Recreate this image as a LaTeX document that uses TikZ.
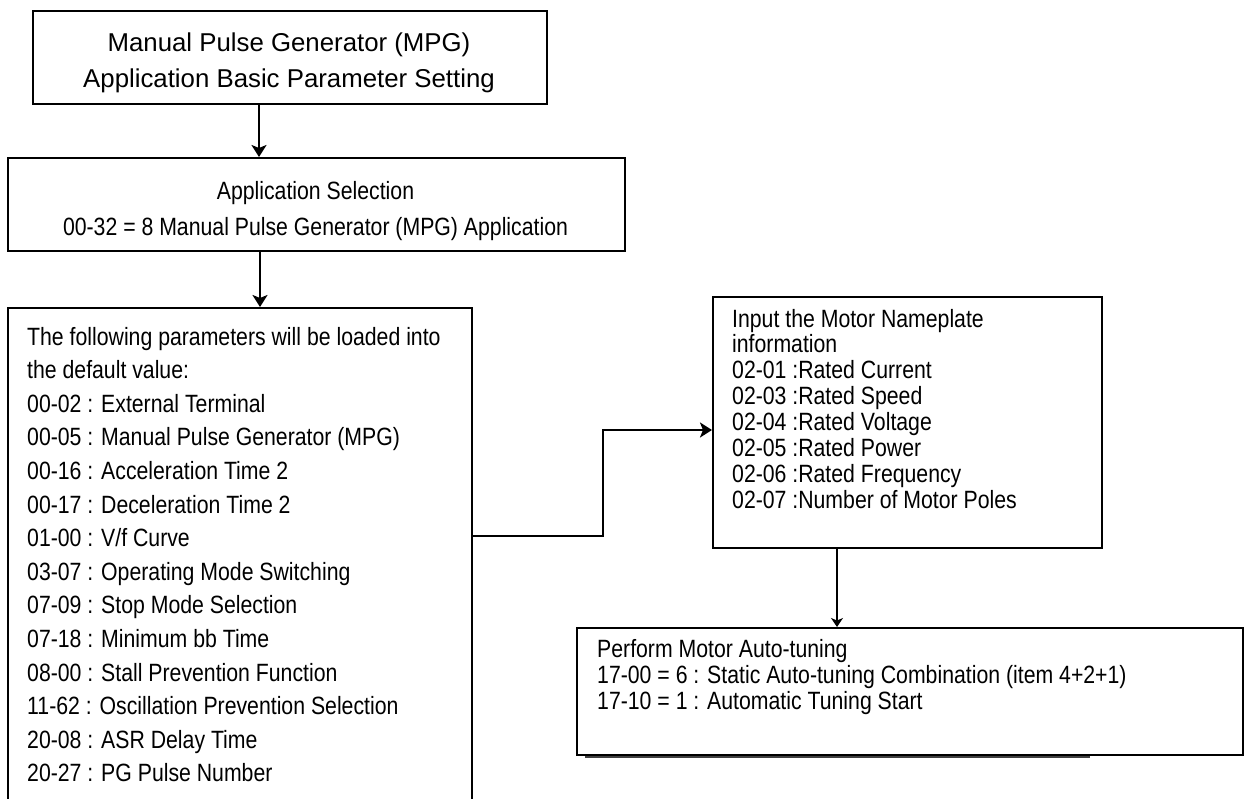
\documentclass[tikz,border=0pt]{standalone}
\usepackage{fontspec}
\setmainfont{Liberation Sans}
\newfontfamily\narrowfont[FakeStretch=0.85]{Liberation Sans}
\usetikzlibrary{arrows.meta}
\begin{document}
\begin{tikzpicture}[x=1pt,y=-1pt,
  box/.style={draw=black, line width=2.2pt, inner sep=0pt, anchor=north west},
  wide/.style={inner sep=0pt, font=\fontsize{25.8}{30}\selectfont},
  nar/.style={inner sep=0pt, font=\narrowfont\fontsize{25}{30}\selectfont},
  arr/.style={line width=2.6pt, -{Stealth[length=12pt,width=15pt,inset=3pt]}},
  thinarr/.style={line width=1.2pt, -{Stealth[length=9pt,width=12pt,inset=2.5pt]}}]
\fill[white] (0,0) rectangle (1244,798);
\useasboundingbox (0,0) rectangle (1244,798);

% boxes
\node[box, minimum width=514pt, minimum height=93pt] (top) at (32,10) {};
\node[box, minimum width=617pt, minimum height=93pt] (sel) at (7,157) {};
\node[box, minimum width=464pt, minimum height=500pt] (par) at (7,307) {};
\node[box, minimum width=389pt, minimum height=251pt] (plate) at (712,296) {};
\node[box, minimum width=666pt, minimum height=127pt] (tune) at (576,627) {};
\coordinate (shA) at (585,757);
\coordinate (shB) at (1090,757);
\draw[line width=2pt, black!75] (shA) -- (shB);

% texts
\node[wide, anchor=base] (topA) at (289,51.7) {Manual Pulse Generator (MPG)};
\node[wide, anchor=base] (topB) at (289,87.3) {Application Basic Parameter Setting};
\node[nar, anchor=base] (selA) at (315.5,199) {Application Selection};
\node[nar, anchor=base] (selB) at (315.5,235) {00-32 = 8 Manual Pulse Generator (MPG) Application};

\foreach \t [count=\i from 0] in {The following parameters will be loaded into,
  the default value:,
  00-02 : External Terminal,
  00-05 : Manual Pulse Generator (MPG),
  00-16 : Acceleration Time 2,
  00-17 : Deceleration Time 2,
  01-00 : V/f Curve,
  03-07 : Operating Mode Switching,
  07-09 : Stop Mode Selection,
  07-18 : Minimum bb Time,
  08-00 : Stall Prevention Function,
  11-62 : Oscillation Prevention Selection,
  20-08 : ASR Delay Time,
  20-27 : PG Pulse Number}
  \node[nar, anchor=base west] (par\i) at (27,{345+33.6*\i}) {\t};

\foreach \t [count=\i from 0] in {Input the Motor Nameplate,
  information,
  02-01 :Rated Current,
  02-03 :Rated Speed,
  02-04 :Rated Voltage,
  02-05 :Rated Power,
  02-06 :Rated Frequency,
  02-07 :Number of Motor Poles}
  \node[nar, anchor=base west] (plate\i) at (732,{327+25.9*\i}) {\t};

\foreach \t [count=\i from 0] in {Perform Motor Auto-tuning,
  17-00 = 6 : Static Auto-tuning Combination (item 4+2+1),
  17-10 = 1 : Automatic Tuning Start}
  \node[nar, anchor=base west] (tune\i) at (597,{657+26*\i}) {\t};

% connectors
\draw[arr] (top.south -| 259,0) -- (sel.north -| 259,0);
\draw[arr] (sel.south -| 260,0) -- (par.north -| 260,0);
\draw[arr] (par.east |- 0,536) -- (603,536) |- (plate.west |- 0,430);
\draw[thinarr] (plate.south -| 837,0) -- (tune.north -| 837,0);
\end{tikzpicture}
\end{document}
